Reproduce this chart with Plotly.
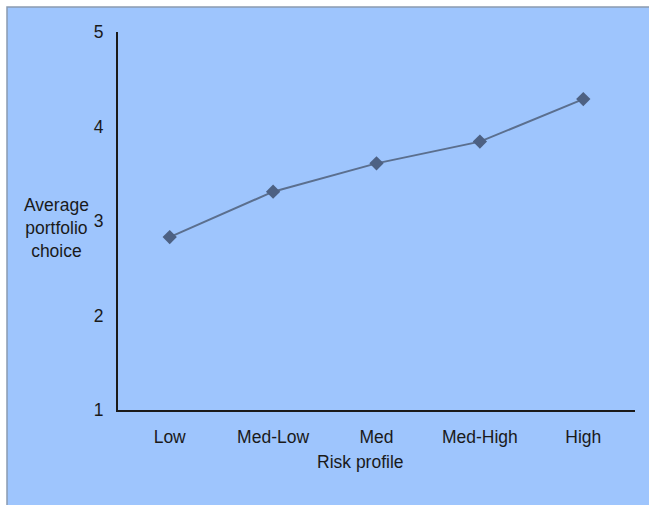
import plotly.graph_objects as go

categories = ["Low", "Med-Low", "Med", "Med-High", "High"]
values = [2.83, 3.31, 3.61, 3.84, 4.29]
y_ticks = [1, 2, 3, 4, 5]

W, H = 649, 505
L, R, T, B = 118, 14, 32, 95
pw, ph = W - L - R, H - T - B

def px_x(p):
    return (p - L) / pw

def px_y(p):
    return (H - B - p) / ph

FONT = "Liberation Sans, Arial, sans-serif"
TXT = "#1a1a1a"

fig = go.Figure()
fig.add_trace(go.Scatter(
    x=categories, y=values, mode="lines+markers",
    line=dict(color="#5b6f8e", width=2),
    marker=dict(symbol="diamond", size=11, color="#4d6183"),
    showlegend=False, cliponaxis=False,
))

fig.update_layout(
    width=W, height=H,
    margin=dict(l=L, r=R, t=T, b=B),
    paper_bgcolor="white",
    plot_bgcolor="rgba(0,0,0,0)",
    font=dict(family=FONT, size=17.5, color=TXT),
    shapes=[dict(
        type="rect", xref="paper", yref="paper", layer="below",
        x0=px_x(7), x1=px_x(720), y0=px_y(580), y1=px_y(7),
        fillcolor="#9ec5fd", line=dict(color="#8a9ab0", width=1.5),
    )],
    annotations=[
        dict(text="Average<br>portfolio<br>choice", xref="paper", yref="paper",
             x=px_x(56), y=px_y(228), showarrow=False, align="center",
             font=dict(size=17.5, color=TXT), xanchor="center", yanchor="middle"),
        dict(text="Risk profile", xref="paper", yref="paper",
             x=px_x(360), y=px_y(462), showarrow=False,
             font=dict(size=17.5, color=TXT), xanchor="center", yanchor="middle"),
    ],
)
fig.update_xaxes(
    type="category", range=[-0.5, 4.5],
    showline=True, linecolor="#1a1a1a", linewidth=2,
    showgrid=False, zeroline=False,
    ticks="outside", ticklen=10, tickcolor="rgba(0,0,0,0)",
    tickfont=dict(size=17.5, color=TXT),
)
fig.update_yaxes(
    range=[1, 5], tickvals=y_ticks,
    showline=True, linecolor="#1a1a1a", linewidth=2,
    showgrid=False, zeroline=False,
    ticks="outside", ticklen=9, tickcolor="rgba(0,0,0,0)",
    tickfont=dict(size=17.5, color=TXT),
)

fig.write_html(
    "out.html",
    config={"displayModeBar": False, "staticPlot": True},
    post_script="document.body.style.margin='0';document.body.style.overflow='hidden';",
)
